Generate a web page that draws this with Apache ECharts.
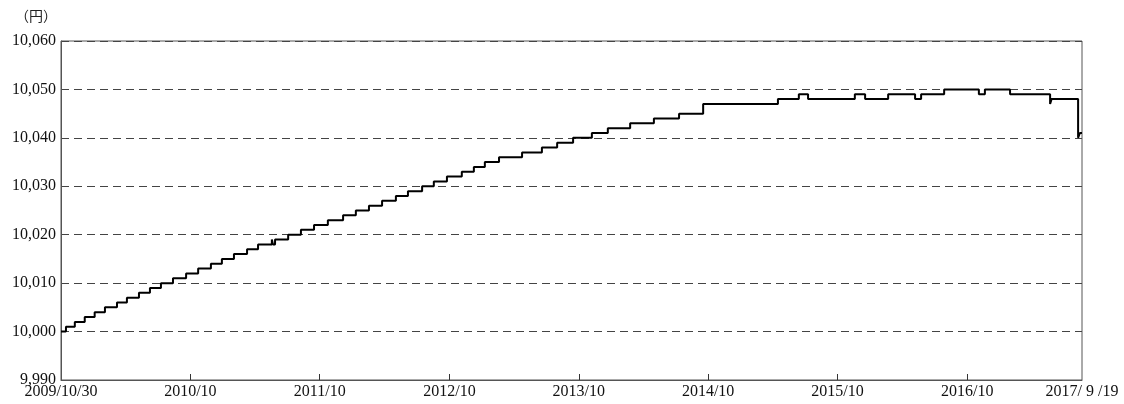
<!DOCTYPE html>
<html><head><meta charset="utf-8">
<script src="https://cdn.jsdelivr.net/npm/echarts@6/dist/echarts.min.js"></script>
<style>html,body{margin:0;padding:0;background:#fff}#c{width:1124px;height:404px}</style>
</head><body><div id="c"></div>
<script>
// Dates on which the price changed, and the new price (円) from that date
const changeDates = [
 '2009-10-30','2009-11-13','2009-12-08','2010-01-05','2010-02-02','2010-03-03','2010-04-06','2010-05-04',
 '2010-06-07','2010-07-08','2010-08-08','2010-09-11','2010-10-18','2010-11-21','2010-12-27','2011-01-27',
 '2011-03-02','2011-04-08','2011-05-09','2011-06-17','2011-06-20','2011-06-26','2011-08-02','2011-09-07',
 '2011-10-14','2011-11-22',
 '2012-01-04','2012-02-09','2012-03-17','2012-04-23','2012-06-01','2012-07-05','2012-08-14','2012-09-16',
 '2012-10-23','2012-12-04','2013-01-07','2013-02-07','2013-03-19','2013-05-23','2013-07-18','2013-08-30',
 '2013-10-14','2013-12-06','2014-01-20','2014-03-24','2014-05-30','2014-08-09','2014-10-16','2015-05-15',
 '2015-07-13','2015-08-08','2015-12-18','2016-01-16','2016-03-21','2016-06-05','2016-06-22','2016-08-26',
 '2016-12-02','2016-12-19','2017-02-28','2017-06-21','2017-06-25','2017-09-08','2017-09-13','2017-09-19'
];
const prices = [
 10000,10001,10002,10003,10004,10005,10006,10007,
 10008,10009,10010,10011,10012,10013,10014,10015,
 10016,10017,10018,10019,10018,10019,10020,10021,
 10022,10023,
 10024,10025,10026,10027,10028,10029,10030,10031,
 10032,10033,10034,10035,10036,10037,10038,10039,
 10040,10041,10042,10043,10044,10045,10047,10048,
 10049,10048,10049,10048,10049,10048,10049,10050,
 10049,10050,10049,10047,10048,10040,10041,10041
];
const xTickDates = ['2009-10-30','2010-10-30','2011-10-30','2012-10-30','2013-10-30','2014-10-30','2015-10-30','2016-10-30','2017-09-19'];
const xTickLabels = ['2009/10/30','2010/10','2011/10','2012/10','2013/10','2014/10','2015/10','2016/10','2017/ 9 /19'];
const yMin = 9990, yMax = 10060, yStep = 10;
const unitLabel = '（円）';

function ts(s){ const p = s.split('-'); return new Date(+p[0], +p[1]-1, +p[2]).getTime(); }
const tickTs = xTickDates.map(ts);
const seriesData = changeDates.map((d,i)=>[ts(d), prices[i]]);

const chart = echarts.init(document.getElementById('c'), null, {renderer:'canvas'});
const serif = '"Liberation Serif","DejaVu Serif",serif';
chart.setOption({
  animation:false,
  grid:{left:61,right:42,top:41,bottom:24,show:true,borderColor:'#555',borderWidth:1,backgroundColor:'transparent'},
  graphic:[{type:'text',left:15,top:9,style:{text:unitLabel,font:'14px "Noto Sans CJK JP"',fill:'#222'}}],
  xAxis:{
    type:'value', min:tickTs[0], max:tickTs[tickTs.length-1], scale:true,
    axisLine:{lineStyle:{color:'#555'}},
    axisTick:{show:true,inside:true,length:6,lineStyle:{color:'#333'},customValues:tickTs.slice(1,-1)},
    splitLine:{show:false},
    axisLabel:{
      customValues:tickTs, showMinLabel:true, showMaxLabel:true, hideOverlap:false,
      color:'#111', fontFamily:serif, fontSize:16, margin:4,
      formatter:function(v){ const i = tickTs.indexOf(v); return i>=0 ? xTickLabels[i] : ''; }
    }
  },
  yAxis:{
    type:'value', min:yMin, max:yMax, interval:yStep,
    axisLine:{show:true,lineStyle:{color:'#555'}},
    axisTick:{show:false},
    splitLine:{show:true,lineStyle:{color:'#444',type:[8,5],width:1}},
    axisLabel:{color:'#111',fontFamily:serif,fontSize:16,margin:5,
      formatter:function(v){ return v.toLocaleString('en-US'); }}
  },
  series:[{
    type:'line', step:'end', data:seriesData, showSymbol:false, symbol:'none',
    lineStyle:{color:'#000',width:2}
  }]
});
</script></body></html>
